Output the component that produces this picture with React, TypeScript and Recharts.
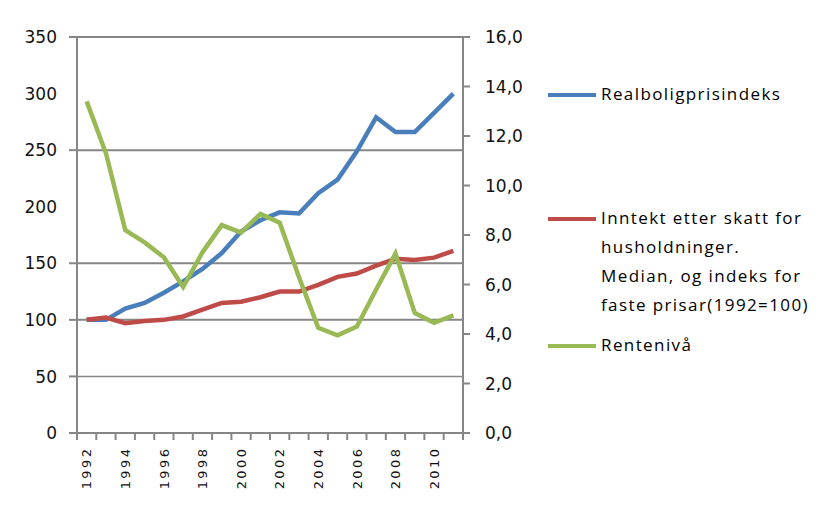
import React from "react";
import { LineChart, Line, XAxis, YAxis, ReferenceLine, Legend } from "recharts";

// data
const years = [
  1992, 1993, 1994, 1995, 1996, 1997, 1998, 1999, 2000, 2001,
  2002, 2003, 2004, 2005, 2006, 2007, 2008, 2009, 2010, 2011,
];
const realboligprisindeks = [
  100, 100, 110, 115, 124, 134, 145, 159, 178, 188,
  195, 194, 212, 224, 249, 279, 266, 266, 283, 300,
];
const inntekt = [
  100, 102, 97, 99, 100, 103, 109, 115, 116, 120,
  125, 125, 131, 138, 141, 148, 154, 153, 155, 161,
];
const renteniva = [
  13.4, 11.3, 8.2, 7.7, 7.1, 5.9, 7.3, 8.4, 8.1, 8.85,
  8.5, 6.3, 4.25, 3.95, 4.3, 5.8, 7.25, 4.85, 4.45, 4.75,
];

const leftTicks = [0, 50, 100, 150, 200, 250, 300, 350];
const rightTicks = [0, 2, 4, 6, 8, 10, 12, 14, 16];
// only these levels carry a gridline (and a tick on the left axis)
const gridValues = [50, 100, 150, 250, 350];
const yearLabels = [1992, 1994, 1996, 1998, 2000, 2002, 2004, 2006, 2008, 2010];

const legendItems = [
  { color: "#4A7EBB", lines: ["Realboligprisindeks"], top: 95 },
  {
    color: "#BE4B48",
    lines: [
      "Inntekt etter skatt for",
      "husholdninger.",
      "Median, og indeks for",
      "faste prisar(1992=100)",
    ],
    top: 219,
  },
  { color: "#98B954", lines: ["Rentenivå"], top: 346 },
];

const data = years.map((year, i) => ({
  year,
  bolig: realboligprisindeks[i],
  inntekt: inntekt[i],
  rente: renteniva[i],
}));

const yearBounds = years.map((y) => y - 0.5).concat(years[years.length - 1] + 0.5);
const xDomain = [yearBounds[0], yearBounds[yearBounds.length - 1]];
const xTicks = [...yearBounds, ...yearLabels].sort((a, b) => a - b);

const W = 822;
const H = 505;
const PLOT_TOP = 37;
const PLOT_LEFT = 77;
const PLOT_RIGHT = 463;
const PLOT_BOTTOM = 433;
const AXIS = "#868686";
const FONT = "DejaVu Sans, Verdana, sans-serif";

function XTick(props: any) {
  const { x, payload } = props;
  const v = payload.value;
  if (!Number.isInteger(v)) {
    return (
      <line x1={x} x2={x} y1={PLOT_BOTTOM} y2={PLOT_BOTTOM + 7} stroke={AXIS} strokeWidth={2} />
    );
  }
  const y = PLOT_BOTTOM + 16;
  return (
    <text
      x={x}
      y={y}
      transform={`rotate(-90, ${x}, ${y})`}
      textAnchor="end"
      dy="0.36em"
      fontFamily={FONT}
      fontSize={13}
      fill="#111"
    >
      {String(v)
        .split("")
        .map((c, i) => (
          <tspan key={i} dx={i === 0 ? 0 : 2.4}>
            {c}
          </tspan>
        ))}
    </text>
  );
}

function LeftTick(props: any) {
  const { y, payload } = props;
  const v = payload.value;
  return (
    <g>
      {(v === 0 || gridValues.includes(v)) && (
        <line x1={PLOT_LEFT - 8} x2={PLOT_LEFT} y1={y} y2={y} stroke={AXIS} strokeWidth={2} />
      )}
      <text x={PLOT_LEFT - 20} y={y} dy="0.36em" textAnchor="end" fontFamily={FONT} fontSize={17} fill="#111">
        {v}
      </text>
    </g>
  );
}

function LegendBox() {
  return (
    <div style={{ position: "relative", width: W, height: H }}>
      {legendItems.map((item) => (
        <div key={item.color}>
          <div
            style={{
              position: "absolute",
              left: 548,
              top: item.top - 2,
              width: 48,
              height: 4,
              background: item.color,
            }}
          />
          {item.lines.map((t, j) => (
            <div
              key={t}
              style={{
                position: "absolute",
                left: 601,
                top: item.top - 13 + j * 29,
                fontFamily: "Open Sans, sans-serif",
                fontSize: 17,
                letterSpacing: 1.4,
                lineHeight: "24px",
                color: "#000",
                whiteSpace: "nowrap",
              }}
            >
              {t}
            </div>
          ))}
        </div>
      ))}
    </div>
  );
}

export default function App() {
  return (
    <div style={{ position: "absolute", left: 0, top: 0, background: "#fff" }}>
      <LineChart
        width={W}
        height={H}
        data={data}
        margin={{ top: PLOT_TOP, right: W - PLOT_RIGHT - 80, bottom: 0, left: 0 }}
      >
        <XAxis
          type="number"
          dataKey="year"
          domain={xDomain}
          ticks={xTicks}
          tick={<XTick />}
          tickLine={false}
          axisLine={{ stroke: AXIS, strokeWidth: 2 }}
          height={H - PLOT_BOTTOM}
          interval={0}
        />
        <YAxis
          yAxisId="left"
          orientation="left"
          width={PLOT_LEFT}
          domain={[0, 350]}
          ticks={leftTicks}
          interval={0}
          tickLine={false}
          tick={<LeftTick />}
          axisLine={{ stroke: AXIS, strokeWidth: 2 }}
        />
        <YAxis
          yAxisId="right"
          orientation="right"
          width={80}
          domain={[0, 16]}
          ticks={rightTicks}
          interval={0}
          tickSize={7}
          tickMargin={15}
          tick={{ fontFamily: FONT, fontSize: 17, fill: "#111" }}
          tickFormatter={(v: number) => v.toFixed(1).replace(".", ",")}
          tickLine={{ stroke: AXIS, strokeWidth: 2 }}
          axisLine={{ stroke: AXIS, strokeWidth: 2 }}
        />
        {gridValues.map((v) => (
          <ReferenceLine
            key={v}
            yAxisId="left"
            y={v}
            stroke={AXIS}
            strokeWidth={v === 50 ? 1.5 : 2}
          />
        ))}
        <Line
          yAxisId="left"
          type="linear"
          dataKey="bolig"
          stroke="#4A7EBB"
          strokeWidth={4.5}
          dot={false}
          isAnimationActive={false}
        />
        <Line
          yAxisId="left"
          type="linear"
          dataKey="inntekt"
          stroke="#BE4B48"
          strokeWidth={4.5}
          dot={false}
          isAnimationActive={false}
        />
        <Line
          yAxisId="right"
          type="linear"
          dataKey="rente"
          stroke="#98B954"
          strokeWidth={4.5}
          dot={false}
          isAnimationActive={false}
        />
        <Legend
          layout="vertical"
          align="center"
          verticalAlign="middle"
          content={() => <LegendBox />}
          wrapperStyle={{ left: 0, top: 0, width: W, height: H, pointerEvents: "none" }}
        />
      </LineChart>
    </div>
  );
}
